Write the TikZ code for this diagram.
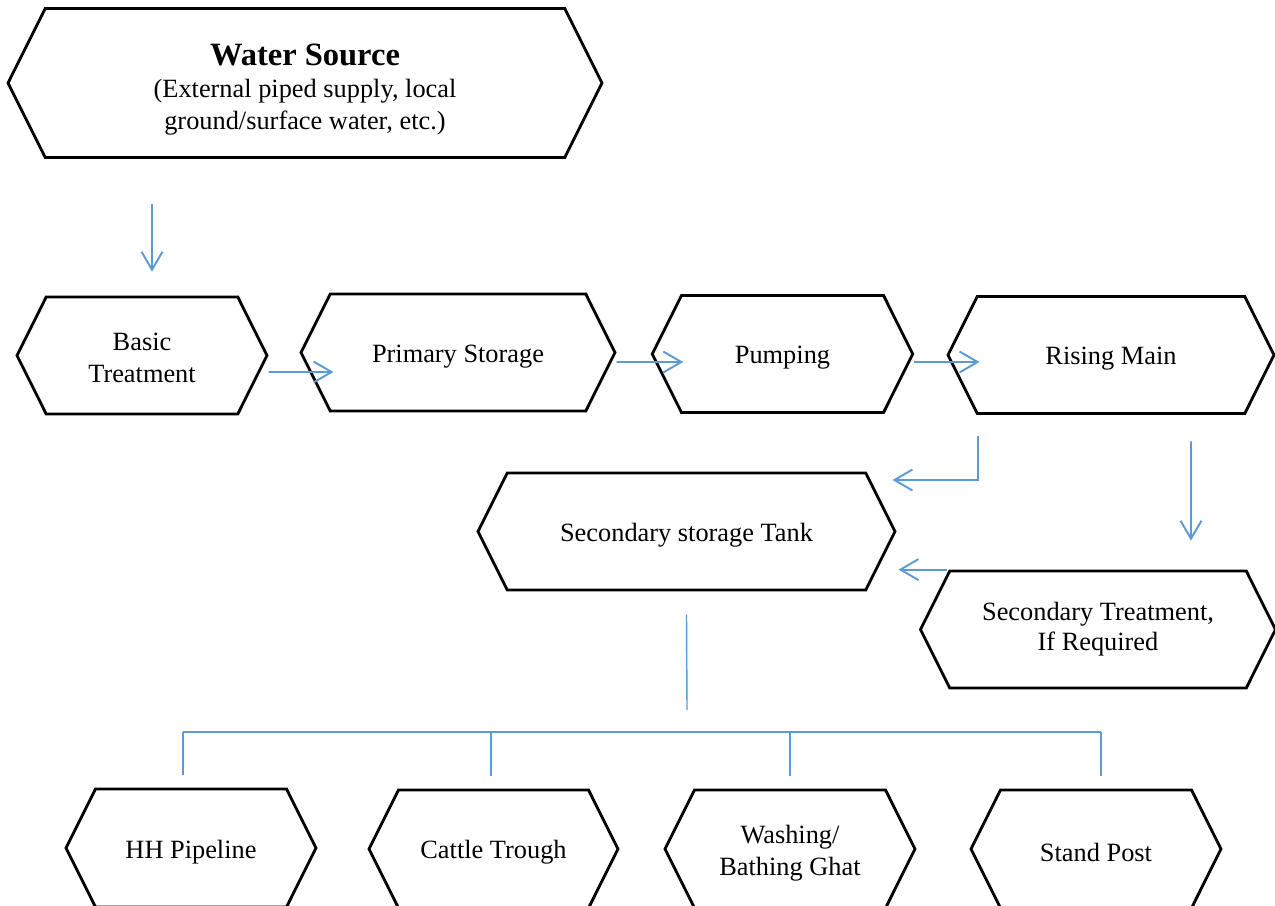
\documentclass[tikz,border=0pt]{standalone}
\usepackage{fontspec}
\setmainfont{Liberation Serif}
\usetikzlibrary{positioning, arrows.meta, shapes.symbols}
\definecolor{flowblue}{HTML}{5B9BD5}

\begin{document}
\begin{tikzpicture}[
		x=0.02cm, y=-0.02cm,
		>={Straight Barb[length=3.6mm, width=4.2mm]},
		hexa/.style={draw, line width=1.6pt, shape=signal, signal to=west and east, signal pointer angle=127, minimum height=2.34cm, inner sep=2pt, align=center, font=\fontsize{15}{18.2}\selectfont},
		oneline/.style={hexa, text height=14.6pt},
		flow/.style={->, draw=flowblue, line width=1.1pt},
		branch/.style={draw=flowblue, line width=0.8pt},
	]
	\useasboundingbox (0,0) rectangle (1275,906);
	\clip (0,0) rectangle (1275,906);

	\node[hexa, minimum width=11.88cm, minimum height=2.98cm, text height=55.7pt] (source) at (305,83) {{\fontsize{18.5}{21}\selectfont\bfseries Water Source}\\(External piped supply, local\\ground/surface water, etc.)};

	\node[hexa, minimum width=5cm, text height=31.2pt] (basic) at (142,355.5) {Basic\\Treatment};
	\node[oneline, minimum width=6.28cm] (primary) at (458,352.5) {Primary Storage};
	\node[oneline, minimum width=5.21cm] (pumping) at (782.5,354) {Pumping};
	\node[oneline, minimum width=6.52cm] (rising) at (1111,355) {Rising Main};

	\node[oneline, minimum width=8.34cm] (tank) at (686.5,531.5) {Secondary storage Tank};
	\node[hexa, minimum width=7.1cm, font=\fontsize{15}{17}\selectfont] (treat) at (1098,629.5) {Secondary Treatment,\\If Required};

	\node[oneline, minimum width=5cm, minimum height=2.36cm] (hh) at (191,848) {HH Pipeline};
	\node[oneline, minimum width=4.98cm, minimum height=2.36cm] (trough) at (493.5,849) {Cattle Trough};
	\node[hexa, minimum width=5cm, minimum height=2.36cm, text height=33pt] (ghat) at (790,849) {Washing/\\Bathing Ghat};
	\node[oneline, minimum width=5cm, minimum height=2.36cm] (stand) at (1096,849) {Stand Post};

	% main line
	\draw[flow] ([xshift=-3.06cm, yshift=-0.9cm]source.south) -- ([xshift=0.2cm, yshift=0.48cm]basic.north);
	\draw[flow] ([yshift=-0.33cm]basic.east) -- ([xshift=0.68cm, yshift=-0.39cm]primary.west);
	\draw[flow] ([yshift=-0.19cm]primary.east) -- ([xshift=0.65cm, yshift=-0.16cm]pumping.west);
	\draw[flow] ([yshift=-0.16cm]pumping.east) -- ([xshift=0.66cm, yshift=-0.14cm]rising.west);

	% to the secondary tank
	\draw[flow] ([xshift=-2.66cm, yshift=-0.43cm]rising.south) |- ([xshift=-0.08cm, yshift=1.03cm]tank.east);
	\draw[flow] ([xshift=1.6cm, yshift=-0.53cm]rising.south) -- ([xshift=1.86cm, yshift=0.58cm]treat.north);
	\draw[flow] ([xshift=-3.02cm]treat.north) -- ([xshift=0.04cm]tank.east |- treat.north);

	% distribution
	\coordinate (split) at (687,710);
	\coordinate (bus) at (687,732);
	\draw[branch] ([yshift=-0.46cm]tank.south) -- (split);
	\draw[branch] ([xshift=-0.16cm]hh.north |- bus) -- ([xshift=0.1cm]stand.north |- bus);
	\draw[branch] ([xshift=-0.16cm]hh.north |- bus) -- ([xshift=-0.16cm, yshift=0.26cm]hh.north);
	\draw[branch] ([xshift=-0.05cm]trough.north |- bus) -- ([xshift=-0.05cm, yshift=0.26cm]trough.north);
	\draw[branch] (ghat.north |- bus) -- ([yshift=0.26cm]ghat.north);
	\draw[branch] ([xshift=0.1cm]stand.north |- bus) -- ([xshift=0.1cm, yshift=0.26cm]stand.north);
\end{tikzpicture}
\end{document}
